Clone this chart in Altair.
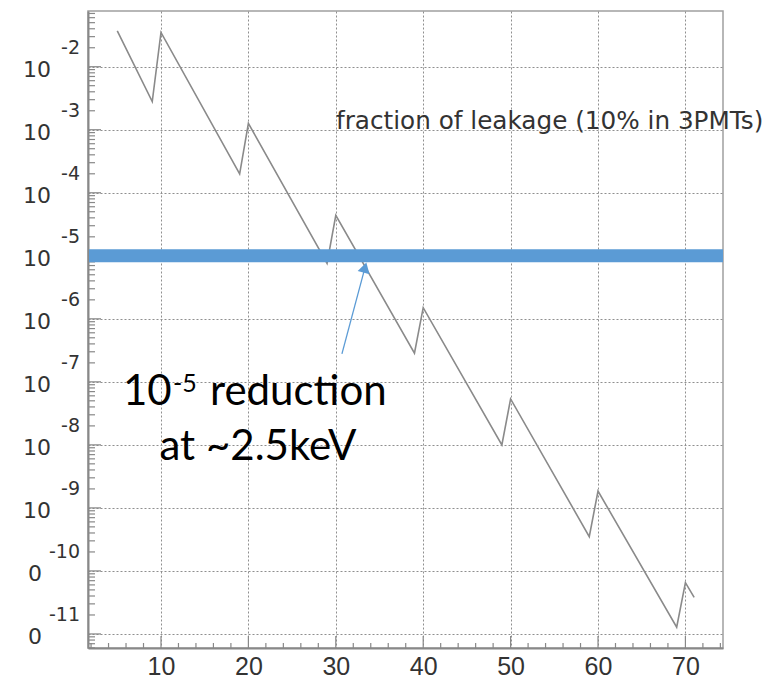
import altair as alt
import pandas as pd

# Leakage fraction versus energy threshold: vertices of the saw-tooth curve
energy = [5, 9, 10, 19, 20, 29, 30, 39, 40, 49, 50, 59, 60, 69, 70, 71]
leakage = [3.7e-2, 2.8e-3, 3.5e-2, 2.0e-4, 1.26e-3, 7.6e-6, 4.4e-5, 2.85e-7,
           1.5e-6, 1.0e-8, 5.35e-8, 3.5e-10, 1.85e-9, 1.28e-11, 6.5e-11, 3.8e-11]

# Axis tick values
x_major = [10, 20, 30, 40, 50, 60, 70]
x_minor = [2, 4, 6, 8, 12, 14, 16, 18, 22, 24, 26, 28, 32, 34, 36, 38, 42, 44,
           46, 48, 52, 54, 56, 58, 62, 64, 66, 68, 72, 74]
decades = [1e-2, 1e-3, 1e-4, 1e-5, 1e-6, 1e-7, 1e-8, 1e-9, 1e-10, 1e-11]
exponents = ["-2", "-3", "-4", "-5", "-6", "-7", "-8", "-9", "-10", "-11"]
bases = ["10", "10", "10", "10", "10", "10", "10", "10", "0", "0"]

# Reference level and arrow pointing at its crossing
reduction_level = 1e-5
arrow_tail = (30.7, 2.77e-7)
arrow_head = (33.34, 6.5e-6)

X_DOMAIN = [1.65, 74.3]
Y_DOMAIN = [10 ** -11.223, 10 ** -1.116]
W, H = 635, 637

GREY = "#888888"
BLUE = "#5b9bd5"
AXFONT = "DejaVu Sans"

xs = alt.Scale(domain=X_DOMAIN, nice=False, zero=False)
ys = alt.Scale(type="log", domain=Y_DOMAIN, nice=False)

# One axis definition shared by every layer so the merged axes agree
AX_X = alt.Axis(values=x_major, title=None, grid=True, ticks=False, tickSize=0,
                labelFont="Liberation Sans", labelFontSize=25, labelColor="#333333",
                labelPadding=6, domain=True, labelFlush=False)
AX_Y = alt.Axis(values=decades, title=None, grid=True, ticks=False, tickSize=0,
                labels=False, domain=True)


def X(field):
    return alt.X(field, scale=xs, axis=AX_X)


def Y(field):
    return alt.Y(field, scale=ys, axis=AX_Y)


minor_y = [k * 10.0 ** n for n in range(-12, -1) for k in range(2, 10)]
minor_y = [v for v in minor_y if Y_DOMAIN[0] <= v <= Y_DOMAIN[1]]

curve_df = pd.DataFrame({"energy": energy, "leakage": leakage})
dec_df = pd.DataFrame({"v": decades, "base": bases, "exp": exponents})
minor_df = pd.DataFrame({"v": minor_y})
xmaj_df = pd.DataFrame({"e": x_major})
xmin_df = pd.DataFrame({"e": x_minor})

# Main curve
curve = alt.Chart(curve_df).mark_line(color="#8a8a8a", strokeWidth=1.6).encode(
    x=X("energy:Q"), y=Y("leakage:Q"))

# Inward ticks on the left axis
y_major_ticks = alt.Chart(dec_df).mark_rule(color=GREY, strokeWidth=1.2).encode(
    y=Y("v:Q"), x=alt.value(0), x2=alt.value(13))
y_minor_ticks = alt.Chart(minor_df).mark_rule(color=GREY, strokeWidth=1.2).encode(
    y=Y("v:Q"), x=alt.value(0), x2=alt.value(7))

# Inward ticks on the bottom axis
x_major_ticks = alt.Chart(xmaj_df).mark_rule(color=GREY, strokeWidth=1.2).encode(
    x=X("e:Q"), y=alt.value(H), y2=alt.value(H - 12))
x_minor_ticks = alt.Chart(xmin_df).mark_rule(color=GREY, strokeWidth=1.2).encode(
    x=X("e:Q"), y=alt.value(H), y2=alt.value(H - 5))

# Decade labels: base and raised exponent
base10 = alt.Chart(dec_df).transform_filter("datum.base == '10'").mark_text(
    font=AXFONT, fontSize=22, color="#333333", align="right",
    baseline="alphabetic", dy=10).encode(
    y=Y("v:Q"), x=alt.value(-37), text="base:N")
base0 = alt.Chart(dec_df).transform_filter("datum.base == '0'").mark_text(
    font=AXFONT, fontSize=22, color="#333333", align="right",
    baseline="alphabetic", dy=10).encode(
    y=Y("v:Q"), x=alt.value(-46), text="base:N")
expo = alt.Chart(dec_df).mark_text(
    font=AXFONT, fontSize=19, color="#333333", align="right",
    baseline="alphabetic", dy=-13).encode(
    y=Y("v:Q"), x=alt.value(-8), text="exp:N")

# Curve legend text
title = alt.Chart(pd.DataFrame({"t": ["fraction of leakage (10% in 3PMTs)"]})).mark_text(
    font=AXFONT, fontSize=24.7, color="#333333", align="left",
    baseline="alphabetic").encode(x=alt.value(248), y=alt.value(118), text="t:N")

# Thick reference line at the 1e-5 level
level = alt.Chart(pd.DataFrame({"v": [reduction_level]})).mark_rule(
    color=BLUE, strokeWidth=13, strokeCap="butt").encode(
    y=Y("v:Q"), x=alt.value(1), x2=alt.value(W))

# Arrow
arrow_df = pd.DataFrame({"x": [arrow_tail[0]], "y": [arrow_tail[1]],
                         "x2": [arrow_head[0]], "y2": [arrow_head[1]]})
arrow = alt.Chart(arrow_df).mark_rule(color=BLUE, strokeWidth=1.3).encode(
    x=X("x:Q"), y=Y("y:Q"), x2="x2:Q", y2="y2:Q")
head = alt.Chart(pd.DataFrame({"x": [arrow_head[0]], "y": [arrow_head[1]]})).mark_point(
    shape="triangle-up", filled=True, size=150, angle=15, color=BLUE, opacity=1,
    strokeWidth=0).encode(x=X("x:Q"), y=Y("y:Q"))

# Annotation text
ANNFONT = "Lato"
ANNSIZE = 42
ann_df = pd.DataFrame({"a": ["10"], "b": ["-5"], "c": ["reduction"], "d": ["at ~2.5keV"]})
ann_base = alt.Chart(ann_df).mark_text(font=ANNFONT, fontSize=ANNSIZE, color="black",
                                       align="left", baseline="alphabetic").encode(
    x=alt.value(35), y=alt.value(394), text="a:N")
ann_exp = alt.Chart(ann_df).mark_text(font=ANNFONT, fontSize=25, color="black",
                                      align="left", baseline="alphabetic").encode(
    x=alt.value(85), y=alt.value(381), text="b:N")
ann_word = alt.Chart(ann_df).mark_text(font=ANNFONT, fontSize=ANNSIZE, color="black",
                                       align="left", baseline="alphabetic").encode(
    x=alt.value(122), y=alt.value(394), text="c:N")
ann_line2 = alt.Chart(ann_df).mark_text(font=ANNFONT, fontSize=ANNSIZE, color="black",
                                        align="center", baseline="alphabetic").encode(
    x=alt.value(170), y=alt.value(449), text="d:N")

chart = alt.layer(
    curve, y_minor_ticks, y_major_ticks, x_minor_ticks, x_major_ticks,
    base10, base0, expo, title, level, arrow, head,
    ann_base, ann_exp, ann_word, ann_line2,
).properties(
    width=W, height=H,
    autosize=alt.AutoSizeParams(type="none"),
    padding={"left": 88, "top": 11, "right": 60, "bottom": 32},
    background="white",
).configure_view(
    stroke="#a0a0a0", strokeWidth=1.5,
).configure_axis(
    domainColor=GREY, domainWidth=2, gridColor="#8f8f8f", gridDash=[2, 2],
    gridWidth=1,
)

chart.save("out.html", embed_options={"renderer": "svg", "actions": False})
